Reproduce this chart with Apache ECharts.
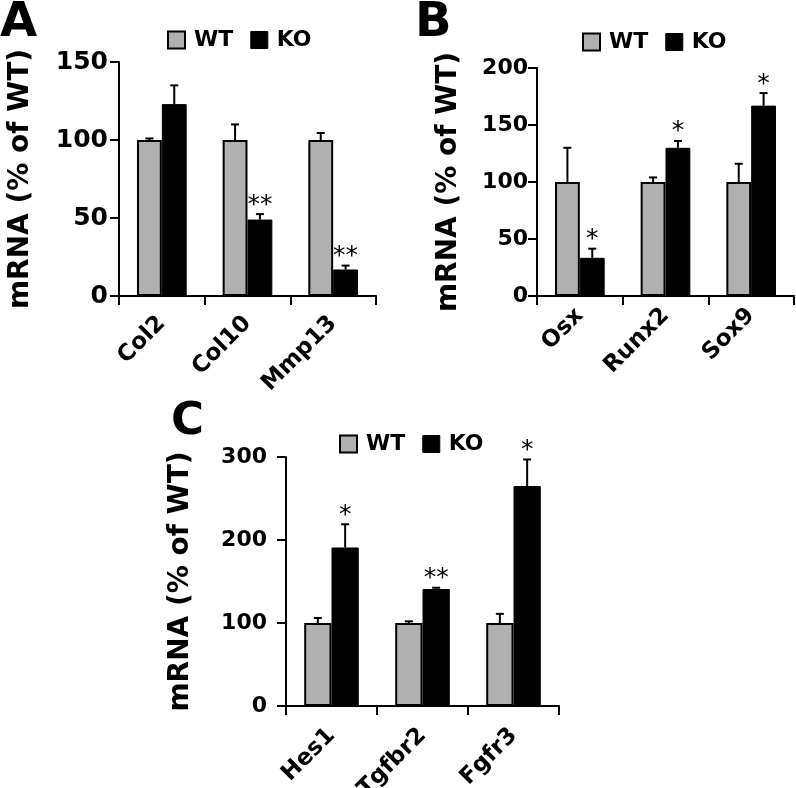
<!DOCTYPE html>
<html><head><meta charset="utf-8">
<script src="https://cdn.jsdelivr.net/npm/echarts@6/dist/echarts.min.js"></script>
<style>html,body{margin:0;padding:0;background:#fff}#c{width:796px;height:788px}</style>
</head><body><div id="c"></div>
<script>
// ---- Data ----
const seriesNames = ['WT', 'KO'];
const yAxisTitle = 'mRNA (% of WT)';

const catsA = ['Col2', 'Col10', 'Mmp13'];
const wtA = [100, 100, 100];
const wtSdA = [1, 10, 4.5];
const koA = [123, 49, 17];
const koSdA = [12, 3.5, 2.5];
const sigA = ['', '**', '**'];
const ticksA = {max: 150, interval: 50};

const catsB = ['Osx', 'Runx2', 'Sox9'];
const wtB = [100, 100, 100];
const wtSdB = [30, 4, 16];
const koB = [33.5, 130, 167];
const koSdB = [8, 6, 11];
const sigB = ['*', '*', '*'];
const ticksB = {max: 200, interval: 50};

const catsC = ['Hes1', 'Tgfbr2', 'Fgfr3'];
const wtC = [100, 100, 100];
const wtSdC = [6, 2, 11];
const koC = [191, 141, 265];
const koSdC = [28, 1.5, 32];
const sigC = ['*', '**', '*'];
const ticksC = {max: 300, interval: 100};

// ---- Chart ----
const FONT = 'DejaVu Sans';
const WT_COLOR = '#b0b0b0';

const panels = [
  {letter: 'A', lx: 0, ly: 0, lsize: 48, cats: catsA, wt: wtA, wtSd: wtSdA, ko: koA, koSd: koSdA, sig: sigA, ticks: ticksA,
   grid: {left: 119, top: 62, width: 257, height: 234}, tickFont: 25, catFont: 23, catMargin: 24, barPct: 0.29, labelMargin: 11, nameGap: 84,
   legend: {left: 167, top: 29}},
  {letter: 'B', lx: 415, ly: 0, lsize: 48, cats: catsB, wt: wtB, wtSd: wtSdB, ko: koB, koSd: koSdB, sig: sigB, ticks: ticksB,
   grid: {left: 537, top: 68, width: 257, height: 228}, tickFont: 22, catFont: 23, catMargin: 16, barPct: 0.29, labelMargin: 9, nameGap: 74,
   legend: {left: 582, top: 31}},
  {letter: 'C', lx: 171, ly: 400, lsize: 45, cats: catsC, wt: wtC, wtSd: wtSdC, ko: koC, koSd: koSdC, sig: sigC, ticks: ticksC,
   grid: {left: 286, top: 457, width: 273, height: 249}, tickFont: 22, catFont: 23, catMargin: 26, barPct: 0.30, labelMargin: 19, nameGap: 91,
   legend: {left: 339, top: 433}}
];

function makeRender(barPct, sig) {
  return function (params, api) {
    const i = api.value(0), m = api.value(1), sd = api.value(2), side = api.value(3);
    const band = api.size([1, 0])[0];
    const bw = band * barPct;
    const p0 = api.coord([i, m]);
    const p1 = api.coord([i, m + sd]);
    const x = p0[0] + side * bw / 2;
    const children = [
      {type: 'line', shape: {x1: x, y1: p0[1], x2: x, y2: p1[1]}, style: {stroke: '#000', lineWidth: 2}},
      {type: 'line', shape: {x1: x - 4, y1: p1[1], x2: x + 4, y2: p1[1]}, style: {stroke: '#000', lineWidth: 2}}
    ];
    const s = side > 0 ? sig[i] : '';
    if (s) {
      children.push({type: 'text', x: x, y: p1[1] - 9,
        style: {text: s, fill: '#000', font: '25px "' + FONT + '"', align: 'center', verticalAlign: 'middle'}});
    }
    return {type: 'group', children: children};
  };
}

const option = {
  animation: false,
  backgroundColor: '#fff',
  grid: [], xAxis: [], yAxis: [], series: [], legend: [], graphic: []
};

panels.forEach(function (p, k) {
  option.grid.push(Object.assign({containLabel: false, outerBoundsMode: 'none'}, p.grid));
  option.xAxis.push({
    type: 'category', gridIndex: k, data: p.cats, boundaryGap: true,
    axisLine: {show: true, lineStyle: {color: '#000', width: 2}},
    axisTick: {show: true, length: 9, inside: false, alignWithLabel: false, lineStyle: {color: '#000', width: 2}},
    axisLabel: {rotate: 45, interval: 0, margin: p.catMargin, color: '#000', fontFamily: FONT, fontWeight: 'bold', fontSize: p.catFont},
    splitLine: {show: false}
  });
  option.yAxis.push({
    type: 'value', gridIndex: k, min: 0, max: p.ticks.max, interval: p.ticks.interval,
    name: yAxisTitle, nameLocation: 'middle', nameGap: p.nameGap,
    nameTextStyle: {color: '#000', fontFamily: FONT, fontWeight: 'bold', fontSize: 28},
    axisLine: {show: true, lineStyle: {color: '#000', width: 2}},
    axisTick: {show: true, length: 9, inside: false, lineStyle: {color: '#000', width: 2}},
    axisLabel: {margin: p.labelMargin, color: '#000', fontFamily: FONT, fontWeight: 'bold', fontSize: p.tickFont},
    splitLine: {show: false}
  });
  const pct = Math.round(p.barPct * 100) + '%';
  option.series.push({
    name: seriesNames[0], type: 'bar', xAxisIndex: k, yAxisIndex: k, data: p.wt,
    barWidth: pct, barGap: '0%',
    itemStyle: {color: WT_COLOR, borderColor: '#000', borderWidth: 2}
  });
  option.series.push({
    name: seriesNames[1], type: 'bar', xAxisIndex: k, yAxisIndex: k, data: p.ko,
    barWidth: pct, barGap: '0%',
    itemStyle: {color: '#000', borderColor: '#000', borderWidth: 1}
  });
  const errData = [];
  p.cats.forEach(function (c, i) {
    errData.push([i, p.wt[i], p.wtSd[i], -1]);
    errData.push([i, p.ko[i], p.koSd[i], 1]);
  });
  option.series.push({
    type: 'custom', xAxisIndex: k, yAxisIndex: k, data: errData, z: 5,
    encode: {x: 0, y: 1}, renderItem: makeRender(p.barPct, p.sig), silent: true
  });
  option.legend.push({
    left: p.legend.left, top: p.legend.top, padding: 0, itemGap: 17, itemWidth: 17, itemHeight: 17,
    icon: 'rect', selectedMode: false,
    textStyle: {color: '#000', fontFamily: FONT, fontWeight: 'bold', fontSize: 22, padding: [0, 0, 0, 4]},
    data: [
      {name: seriesNames[0], itemStyle: {color: WT_COLOR, borderColor: '#000', borderWidth: 2}},
      {name: seriesNames[1], itemStyle: {color: '#000', borderColor: '#000', borderWidth: 1}}
    ]
  });
  option.graphic.push({
    type: 'text', left: p.lx, top: p.ly,
    style: {text: p.letter, fill: '#000', font: 'bold ' + p.lsize + 'px "' + FONT + '"'}
  });
});

const chart = echarts.init(document.getElementById('c'), null, {renderer: 'canvas'});
chart.setOption(option);
</script>
</body></html>
